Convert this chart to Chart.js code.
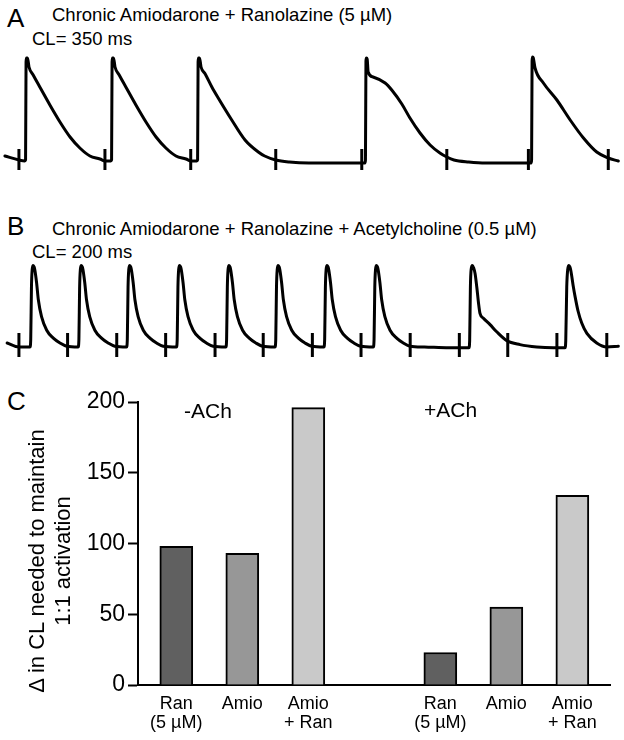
<!DOCTYPE html>
<html>
<head>
<meta charset="utf-8">
<script src="https://cdn.jsdelivr.net/npm/chart.js@4.4.1/dist/chart.umd.min.js"></script>
<style>
  body { margin: 0; background: #fff; }
  #wrap { position: relative; width: 624px; height: 740px; overflow: hidden;
          font-family: "Liberation Sans", Arial, sans-serif; color: #000; }
  canvas { position: absolute; left: 0; }
  .lbl { position: absolute; white-space: nowrap; line-height: 1; }
  .panel { font-size: 26px; }
  .ttl { font-size: 18.5px; }
  .grp { font-size: 21px; }
  #ytitle { position: absolute; left: -100px; top: 535px; width: 300px; height: 52px;
            line-height: 26px; font-size: 22px; text-align: center; transform: rotate(-90deg); }
</style>
</head>
<body>
<div id="wrap">
  <div class="lbl panel" style="left:7px;top:5px">A</div>
  <div class="lbl ttl" style="left:52px;top:6px">Chronic Amiodarone + Ranolazine (5 µM)</div>
  <div class="lbl ttl" style="left:32px;top:30px">CL= 350 ms</div>
  <canvas id="traceA" width="624" height="135" style="top:45px"></canvas>

  <div class="lbl panel" style="left:7px;top:213px">B</div>
  <div class="lbl ttl" style="left:52px;top:220px">Chronic Amiodarone + Ranolazine + Acetylcholine (0.5 µM)</div>
  <div class="lbl ttl" style="left:32px;top:243px">CL= 200 ms</div>
  <canvas id="traceB" width="624" height="115" style="top:255px"></canvas>

  <div class="lbl panel" style="left:7px;top:388px">C</div>
  <canvas id="chartC" width="624" height="370" style="top:370px"></canvas>
  <div class="lbl grp" id="grp0" style="left:184px;top:400px"></div>
  <div class="lbl grp" id="grp1" style="left:424px;top:399px"></div>
  <div id="ytitle">Δ in CL needed to maintain<br>1:1 activation</div>
</div>
<script>
// stimulus times (ms) and membrane potential traces [ms, mV]
var stimA = [0, 350, 699, 1045, 1395, 1741, 2073, 2398];
var traceA = [
  [-57,-80],[0,-84],[24,-85],[27,-84],[29,14],[31,18],[35,18],[41,9],[58,1],[85,-11],[126,-29],[167,-46],[208,-61],[248,-72],[289,-80],[330,-83],[350,-85],
  [374,-85],[377,-84],[379,14],[381,18],[385,18],[391,9],[408,1],[435,-11],[476,-29],[517,-46],[558,-61],[598,-72],[639,-80],[680,-83],[700,-85],
  [724,-85],[727,-84],[729,14],[731,18],[735,18],[741,9],[758,2],[785,-11],[811,-22],[866,-44],[920,-64],[974,-76],[1000,-80],[1045,-84],
  [1100,-86],[1180,-87],[1300,-87],[1395,-87],
  [1408,-87],[1410,-84],[1412,15],[1414,18],[1417,17],[1421,4],[1441,-1],[1490,-7],[1517,-14],[1558,-28],[1591,-42],[1632,-57],[1673,-69],[1713,-77],[1741,-81],
  [1770,-84],[1830,-86],[1900,-87],[2000,-87],[2073,-87],
  [2084,-87],[2086,-84],[2088,15],[2090,19],[2093,18],[2100,8],[2134,-7],[2189,-24],[2243,-44],[2297,-62],[2351,-76],[2398,-82],[2439,-85]
];

var stimB = [0, 198, 398, 597, 798, 994, 1194, 1392, 1592, 1792, 1989, 2189, 2392];
var traceB = [
  [-48,-80],[0,-85],
  [45,-85],[48,-76],[51,-10],[54,12],[58,17],[62,15],[65,11],[72,-5],[79,-26],[92,-47],[113,-64],[140,-74],[167,-80],[194,-84],
  [241,-85],[244,-76],[247,-10],[250,12],[254,17],[258,15],[261,11],[268,-5],[275,-26],[288,-47],[309,-64],[336,-74],[363,-80],[390,-84],
  [438,-85],[441,-76],[444,-10],[447,12],[451,17],[455,15],[458,11],[465,-5],[472,-26],[485,-47],[506,-64],[533,-74],[560,-80],[587,-84],
  [641,-85],[644,-76],[647,-10],[650,12],[654,17],[658,15],[661,11],[668,-5],[675,-26],[688,-47],[709,-64],[736,-74],[763,-80],[790,-84],
  [842,-85],[845,-76],[848,-10],[851,12],[855,17],[859,15],[862,11],[869,-5],[876,-26],[889,-47],[910,-64],[937,-74],[964,-80],[991,-84],
  [1042,-85],[1045,-76],[1048,-10],[1051,12],[1055,17],[1059,15],[1062,11],[1069,-5],[1076,-26],[1089,-47],[1110,-64],[1137,-74],[1164,-80],[1191,-84],
  [1241,-85],[1244,-76],[1247,-10],[1250,12],[1254,17],[1258,15],[1261,11],[1268,-5],[1275,-26],[1288,-47],[1309,-64],[1336,-74],[1363,-80],[1390,-84],
  [1442,-85],[1445,-76],[1448,-10],[1451,12],[1455,17],[1459,15],[1462,11],[1469,-5],[1476,-26],[1489,-47],[1510,-64],[1537,-74],[1564,-80],[1591,-84],
  [1650,-85],[1750,-86],[1831,-86],
  [1834,-77],[1837,-10],[1840,12],[1845,17],[1850,14],[1856,7],[1863,-10],[1870,-30],[1876,-43],[1890,-49],[1917,-57],[1944,-66],[1985,-77],[2039,-82],[2107,-85],[2175,-86],
  [2222,-86],[2225,-77],[2229,-10],[2233,12],[2238,17],[2242,15],[2246,10],[2255,-8],[2263,-22],[2275,-40],[2290,-55],[2311,-68],[2351,-80],[2392,-85],[2439,-84]
];

// panel C
var groups = ['-ACh', '+ACh'];
var treatments = [['Ran', '(5 µM)'], ['Amio'], ['Amio', '+ Ran']];
var minusACh = [98, 93, 196];
var plusACh = [23, 55, 134];
var barColours = ['#606060', '#979797', '#c9c9c9'];
var yTicks = [0, 50, 100, 150, 200];

var FONT = '"Liberation Sans", Arial, sans-serif';

function traceChart(id, trace, stim, yMin, yMax, stimLevel, stimHalf) {
    new Chart(document.getElementById(id), {
        type: 'scatter',
        data: {
            datasets: [{
                data: trace.map(function (p) { return {x: p[0], y: p[1]}; }),
                showLine: true,
                borderColor: '#000',
                borderWidth: 3,
                pointRadius: 0,
                cubicInterpolationMode: 'monotone',
                borderJoinStyle: 'round',
                borderCapStyle: 'round'
            }, {
                data: stim.map(function (t) { return {x: t, y: stimLevel}; }),
                showLine: false,
                pointStyle: 'line',
                pointRotation: 90,
                pointRadius: stimHalf,
                pointBorderWidth: 3,
                pointBorderColor: '#000',
                pointBackgroundColor: '#000'
            }]
        },
        options: {
            responsive: false,
            animation: false,
            events: [],
            layout: { padding: 0, autoPadding: false },
            plugins: { legend: { display: false }, tooltip: { enabled: false } },
            scales: {
                x: { type: 'linear', display: false, min: -77, max: 2462 },
                y: { display: false, min: yMin, max: yMax }
            }
        }
    });
}

traceChart('traceA', traceA, stimA, -104, 31, -83.5, 10.5);
traceChart('traceB', traceB, stimB, -113.75, 30, -82.5, 12);

// bars: slots 0-2 = -ACh, slot 3 empty, slots 4-6 = +ACh
var barData = [], barFill = [], xLabels = [], xSlots = [];
minusACh.forEach(function (v, i) {
    barData.push({x: i, y: v}); barFill.push(barColours[i]);
    xSlots.push(i); xLabels[i] = treatments[i];
});
plusACh.forEach(function (v, i) {
    barData.push({x: i + 4, y: v}); barFill.push(barColours[i]);
    xSlots.push(i + 4); xLabels[i + 4] = treatments[i];
});
document.getElementById('grp0').textContent = groups[0];
document.getElementById('grp1').textContent = groups[1];

new Chart(document.getElementById('chartC'), {
    type: 'bar',
    data: {
        datasets: [{
            data: barData,
            backgroundColor: barFill,
            borderColor: '#000',
            borderWidth: 2,
            barThickness: 33
        }]
    },
    options: {
        responsive: false,
        animation: false,
        events: [],
        layout: { padding: { top: 32, right: 14, left: 0, bottom: 0 }, autoPadding: false },
        plugins: { legend: { display: false }, tooltip: { enabled: false } },
        scales: {
            x: {
                type: 'linear', min: -0.58, max: 6.57, offset: false,
                afterBuildTicks: function (s) { s.ticks = xSlots.map(function (v) { return {value: v}; }); },
                afterFit: function (s) { s.height = 55; },
                grid: { display: false, drawTicks: false },
                border: { display: true, color: '#000', width: 2 },
                ticks: {
                    callback: function (v) { return xLabels[v]; },
                    color: '#000', padding: 10, maxRotation: 0, autoSkip: false,
                    font: { family: FONT, size: 18, lineHeight: 1.05 }
                }
            },
            y: {
                min: 0, max: 200,
                afterBuildTicks: function (s) { s.ticks = yTicks.map(function (v) { return {value: v}; }); },
                afterFit: function (s) { s.width = 138; },
                grid: { drawOnChartArea: false, drawTicks: true, tickLength: 10, tickWidth: 2, tickColor: '#000' },
                border: { display: true, color: '#000', width: 2 },
                ticks: { color: '#000', padding: 3, font: { family: FONT, size: 23 } }
            }
        }
    }
});
</script>
</body>
</html>
